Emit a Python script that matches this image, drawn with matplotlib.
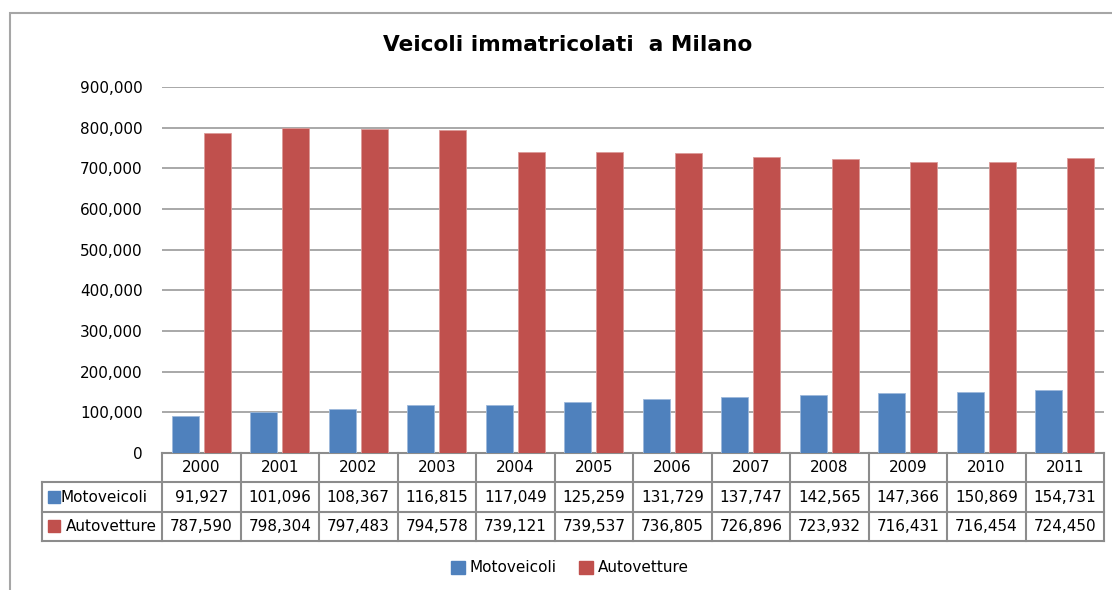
import matplotlib.pyplot as plt
from matplotlib.patches import Patch, Rectangle
from matplotlib.ticker import FuncFormatter

years = ["2000", "2001", "2002", "2003", "2004", "2005",
         "2006", "2007", "2008", "2009", "2010", "2011"]
motoveicoli = [91927, 101096, 108367, 116815, 117049, 125259,
               131729, 137747, 142565, 147366, 150869, 154731]
autovetture = [787590, 798304, 797483, 794578, 739121, 739537,
               736805, 726896, 723932, 716431, 716454, 724450]
series_names = ["Motoveicoli", "Autovetture"]

blue = "#4F81BD"
red = "#C0504D"
grid_col = "#9A9A9A"
fs = 11

W, H = 1112, 590
fig = plt.figure(figsize=(W / 100, H / 100), dpi=100)
plt.rcParams['font.family'] = ['DejaVu Sans']

# outer chart frame (cut on the right and bottom like the source)
fig.patches.append(Rectangle((10 / W, -0.05), 1.2, 1 - 13 / H + 0.05,
                             transform=fig.transFigure, fill=False,
                             edgecolor="#A6A6A6", linewidth=1.5))

fig.text(568 / W, 1 - 45 / H, "Veicoli immatricolati  a Milano",
         ha="center", va="center", fontsize=15.6, fontweight="bold")

# bar area
ax = fig.add_axes([162 / W, 1 - 453 / H, 942 / W, 366 / H])
x = list(range(len(years)))
bw = 0.34
off = 0.205
ax.bar([i - off for i in x], motoveicoli, bw, color=blue, edgecolor="#9DB9DB", linewidth=0.6, zorder=3)
ax.bar([i + off for i in x], autovetture, bw, color=red, edgecolor="#DC9A98", linewidth=0.6, zorder=3)
ax.set_xlim(-0.5, 11.5)
ax.set_ylim(0, 900000)
ax.set_yticks(range(0, 900001, 100000))
ax.yaxis.set_major_formatter(FuncFormatter(lambda v, p: f"{int(v):,}"))
ax.tick_params(axis="y", length=0, pad=14, labelsize=fs)
ax.set_xticks([])
ax.grid(axis="y", color=grid_col, linewidth=1.2, zorder=0)
for s in ["left", "right", "top"]:
    ax.spines[s].set_visible(False)
ax.spines["bottom"].set_color("#8C8C8C")
ax.spines["bottom"].set_linewidth(1.5)

# data table under the bars
col_w = 942 / 12
xmin = -0.5 - 120 / col_w
tax = fig.add_axes([42 / W, 1 - 541 / H, (1104 - 42) / W, 88 / H])
tax.set_xlim(xmin, 11.5)
tax.set_ylim(0, 3)
tax.axis("off")
lc = dict(color="#8C8C8C", linewidth=1.5, clip_on=False)
tax.plot([xmin, 11.5], [2, 2], **lc)
tax.plot([xmin, 11.5], [1, 1], **lc)
tax.plot([xmin, 11.5], [0, 0], **lc)
tax.plot([xmin, xmin], [0, 2], **lc)
for i in range(13):
    tax.plot([i - 0.5, i - 0.5], [0, 3], **lc)
for i, yr in enumerate(years):
    tax.text(i, 2.5, yr, ha="center", va="center", fontsize=fs)
    tax.text(i, 1.5, f"{motoveicoli[i]:,}", ha="center", va="center", fontsize=fs)
    tax.text(i, 0.5, f"{autovetture[i]:,}", ha="center", va="center", fontsize=fs)
tax.plot([xmin + 12 / col_w], [1.5], marker="s", markersize=8, color=blue, clip_on=False)
tax.plot([xmin + 12 / col_w], [0.5], marker="s", markersize=8, color=red, clip_on=False)
tax.text(xmin + 19 / col_w, 1.5, series_names[0], ha="left", va="center", fontsize=fs)
tax.text(xmin + 24 / col_w, 0.5, series_names[1], ha="left", va="center", fontsize=fs)

handles = [Patch(color=blue), Patch(color=red)]
fig.legend(handles, series_names, loc="center", bbox_to_anchor=(570 / W, 1 - 568 / H),
           ncol=2, frameon=False, fontsize=11, handlelength=0.9, handleheight=0.9,
           handletextpad=0.3, columnspacing=1.5)

fig.savefig("out.png", dpi=100)
